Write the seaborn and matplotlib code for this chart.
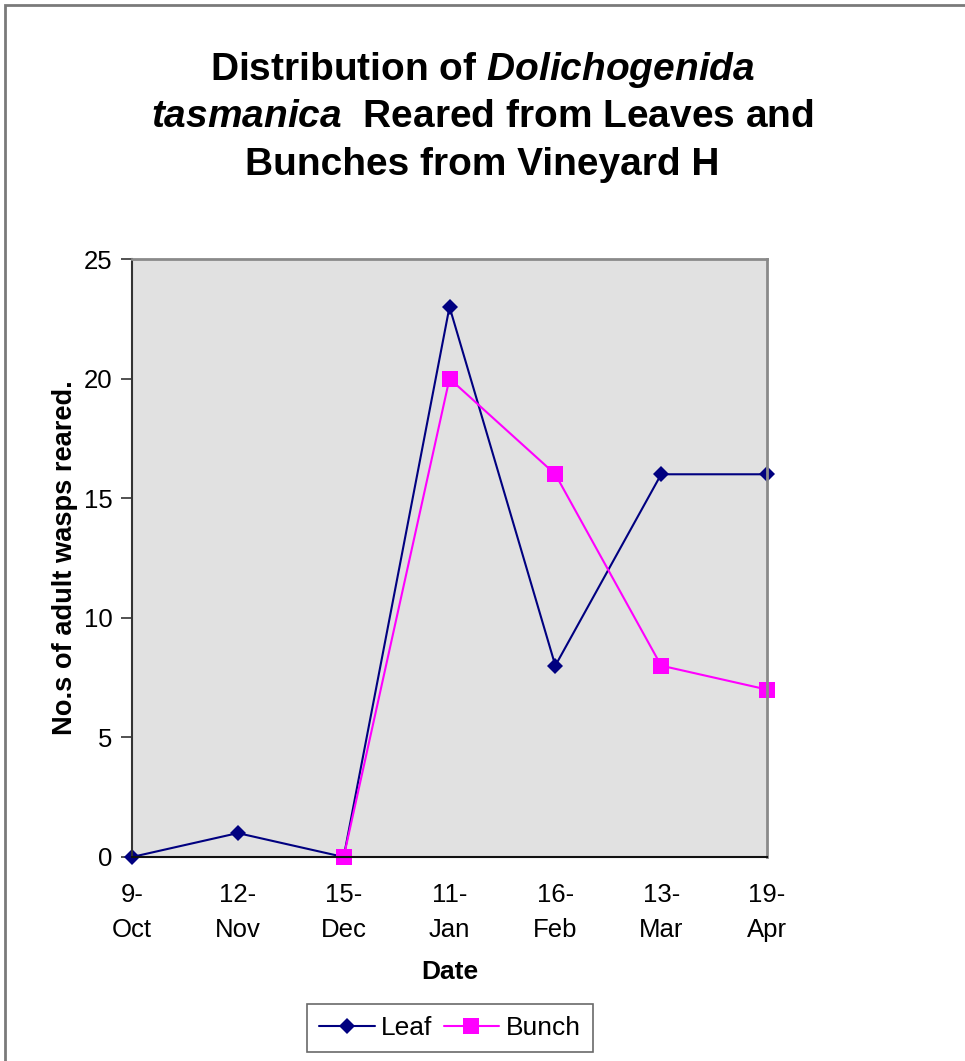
import matplotlib
matplotlib.use("Agg")
import matplotlib.pyplot as plt
from matplotlib.patches import Rectangle
import numpy as np
import pandas as pd
import seaborn as sns

# Sampling dates and counts of adult wasps reared
dates = ["9-\nOct", "12-\nNov", "15-\nDec", "11-\nJan", "16-\nFeb", "13-\nMar", "19-\nApr"]
leaf = [0, 1, 0, 23, 8, 16, 16]
bunch = [np.nan, np.nan, 0, 20, 16, 8, 7]
y_ticks = [0, 5, 10, 15, 20, 25]

sns.set_theme(style="white")
plt.rcParams["font.family"] = ["Liberation Sans", "DejaVu Sans"]
plt.rcParams.update({
    "text.color": "black",
    "axes.labelcolor": "black",
    "xtick.color": "black",
    "ytick.color": "black",
    "mathtext.fontset": "custom",
    "mathtext.rm": "Liberation Sans:bold",
    "mathtext.it": "Liberation Sans:bold:italic",
    "mathtext.bf": "Liberation Sans:bold",
    "mathtext.bfit": "Liberation Sans:bold:italic",
})

df = pd.DataFrame({"pos": np.arange(len(dates)), "Date": dates, "Leaf": leaf, "Bunch": bunch})

fig = plt.figure(figsize=(9.65, 10.61), dpi=100)
ax = fig.add_axes([132 / 965, 1 - 857 / 1061, 635 / 965, 598 / 1061])
ax.set_facecolor("#E1E1E1")

sns.lineplot(data=df, x="pos", y="Leaf", ax=ax, color="#000080", lw=1.5,
             marker="D", markersize=8.5, markeredgewidth=0, label="Leaf", sort=False)
sns.lineplot(data=df.dropna(), x="pos", y="Bunch", ax=ax, color="#FF00FF", lw=1.5,
             marker="s", markersize=12, markeredgewidth=0, label="Bunch", sort=False)
for line in ax.lines:
    line.set_clip_on(False)

ax.set_xlim(0, len(dates) - 1)
ax.set_ylim(0, 25)
ax.set_xticks(df["pos"])
ax.set_xticklabels(dates, fontsize=18.5, linespacing=1.55)
ax.set_yticks(y_ticks)
ax.set_yticklabels([str(t) for t in y_ticks], fontsize=18.5)
ax.tick_params(axis="x", direction="inout", length=16, width=1.2, color="#333333", pad=11)
ax.tick_params(axis="y", direction="out", length=8, width=1.2, color="#333333", pad=6, left=True)

for side in ["top", "right"]:
    ax.spines[side].set_color("#8A8A8A")
    ax.spines[side].set_linewidth(2)
ax.spines["left"].set_color("#333333")
ax.spines["left"].set_linewidth(1.5)
ax.spines["bottom"].set_color("#111111")
ax.spines["bottom"].set_linewidth(1.5)

ax.set_xlabel("Date", fontsize=19, fontweight="bold", labelpad=13)
ax.set_ylabel("No.s of adult wasps reared.", fontsize=19.6, fontweight="bold", labelpad=4)

# Title with italic species name
title_kw = dict(ha="center", va="center", fontsize=28, fontweight="bold")
fig.text(0.5, 1 - 70 / 1061, r"Distribution of $\mathit{Dolichogenida}$", **title_kw)
fig.text(0.5, 1 - 117 / 1061, r"$\mathit{tasmanica}$  Reared from Leaves and", **title_kw)
fig.text(0.5, 1 - 165 / 1061, "Bunches from Vineyard H", **title_kw)

leg = ax.legend(loc="center", bbox_to_anchor=(450 / 965, 1 - 1028 / 1061),
                bbox_transform=fig.transFigure, ncol=2, frameon=True, fancybox=False,
                fontsize=19, handlelength=2.1, handletextpad=0.25, columnspacing=0.42,
                borderpad=0.45, borderaxespad=0, edgecolor="#444444")
leg.get_frame().set_linewidth(1.2)

# Outer chart border
fig.patches.append(Rectangle((4.5 / 965, -0.01), 1.0, 1 - 4.5 / 1061 + 0.01,
                             transform=fig.transFigure, fill=False,
                             edgecolor="#7A7A7A", lw=2))

fig.savefig("out.png", dpi=100)
